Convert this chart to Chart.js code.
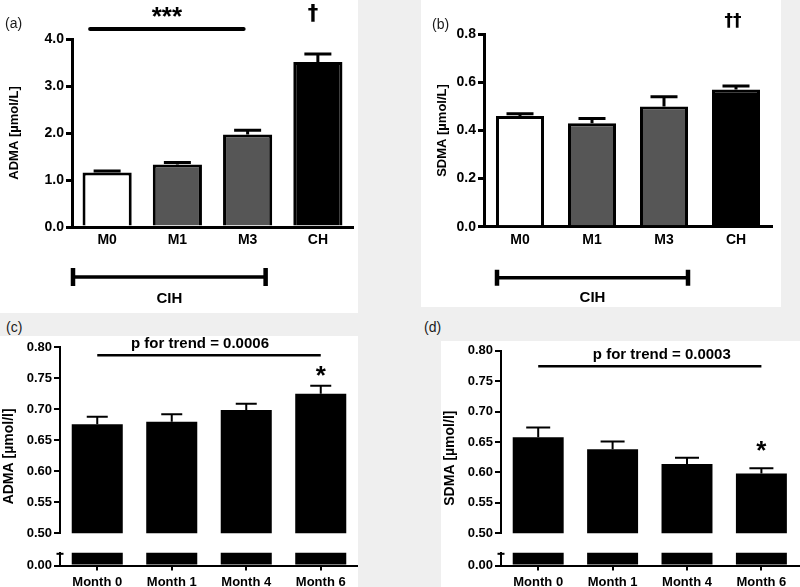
<!DOCTYPE html>
<html>
<head>
<meta charset="utf-8">
<script src="https://cdn.jsdelivr.net/npm/chart.js@4.4.1/dist/chart.umd.min.js"></script>
<style>
  html, body { margin: 0; padding: 0; background: #efefef; }
  #fig { position: relative; width: 800px; height: 587px; overflow: hidden; background: #efefef;
         font-family: "Liberation Sans", Arial, sans-serif; }
  .panel { position: absolute; background: #fff; }
  canvas { position: absolute; }
  .tag { position: absolute; font-size: 14px; line-height: 14px; color: #1a1a1a; }
</style>
</head>
<body>
<div id="fig">
  <div class="panel" style="left:0;top:0;width:358px;height:313px"></div>
  <div class="panel" style="left:421px;top:0;width:360px;height:307px"></div>
  <div class="panel" style="left:0;top:336px;width:358px;height:251px"></div>
  <div class="panel" style="left:441px;top:341px;width:359px;height:246px"></div>

  <canvas id="chartA" width="358" height="313" style="left:0;top:0"></canvas>
  <canvas id="chartB" width="360" height="307" style="left:421px;top:0"></canvas>
  <canvas id="chartCUp" width="358" height="207" style="left:0;top:336px"></canvas>
  <canvas id="chartCLow" width="358" height="44" style="left:0;top:543px"></canvas>
  <canvas id="chartDUp" width="359" height="202" style="left:441px;top:341px"></canvas>
  <canvas id="chartDLow" width="359" height="44" style="left:441px;top:543px"></canvas>

  <span class="tag" style="left:5px;top:16px">(a)</span>
  <span class="tag" style="left:432px;top:17px">(b)</span>
  <span class="tag" style="left:6px;top:320px">(c)</span>
  <span class="tag" style="left:424px;top:320px">(d)</span>
</div>
<script>
// top row: CIH months vs controls
const catsTop = ['M0', 'M1', 'M3', 'CH'];
const admaTop = [1.16, 1.33, 1.97, 3.51];
const admaTopErr = [0.03, 0.04, 0.09, 0.17];
const sdmaTop = [0.46, 0.43, 0.50, 0.57];
const sdmaTopErr = [0.01, 0.02, 0.04, 0.015];
const admaTopTicks = [0, 1, 2, 3, 4];
const sdmaTopTicks = [0, 0.2, 0.4, 0.6, 0.8];

// bottom row: follow-up months
const catsMonth = ['Month 0', 'Month 1', 'Month 4', 'Month 6'];
const admaMonth = [0.676, 0.680, 0.699, 0.725];
const admaMonthErr = [0.012, 0.012, 0.010, 0.013];
const sdmaMonth = [0.658, 0.638, 0.614, 0.598];
const sdmaMonthErr = [0.016, 0.013, 0.010, 0.009];
const upperTicks = [0.50, 0.55, 0.60, 0.65, 0.70, 0.75, 0.80];
const lowerTicks = [0];

const FONT = '"Liberation Sans", Arial, sans-serif';
const DAGGER_FONT = '"DejaVu Sans", sans-serif';
const topColors = ['#ffffff', '#565656', '#565656', '#000000'];

Chart.defaults.font.family = FONT;
Chart.defaults.color = '#000';
Chart.defaults.animation = false;
Chart.defaults.responsive = false;
Chart.defaults.devicePixelRatio = 1;
Chart.defaults.plugins.legend.display = false;
Chart.defaults.plugins.tooltip.enabled = false;

function inkText(ctx, text, x, cy, font) {
    ctx.save();
    ctx.font = font;
    ctx.fillStyle = '#000';
    ctx.textAlign = 'center';
    ctx.textBaseline = 'alphabetic';
    const m = ctx.measureText(text);
    ctx.fillText(text, x, cy + (m.actualBoundingBoxAscent - m.actualBoundingBoxDescent) / 2);
    ctx.restore();
}

function hLine(ctx, x1, x2, y, w, cap) {
    ctx.save();
    ctx.strokeStyle = '#000';
    ctx.lineWidth = w;
    ctx.lineCap = cap || 'butt';
    ctx.beginPath();
    ctx.moveTo(x1, y);
    ctx.lineTo(x2, y);
    ctx.stroke();
    ctx.restore();
}

function bracket(ctx, x1, x2, y, half, w) {
    hLine(ctx, x1, x2, y, w);
    ctx.save();
    ctx.strokeStyle = '#000';
    ctx.lineWidth = w + 1;
    ctx.beginPath();
    ctx.moveTo(x1, y - half);
    ctx.lineTo(x1, y + half);
    ctx.moveTo(x2, y - half);
    ctx.lineTo(x2, y + half);
    ctx.stroke();
    ctx.restore();
}

function errorBars(errors, cap, width) {
    return {
        id: 'errorBars',
        afterDatasetsDraw(chart) {
            const { ctx, scales: { y } } = chart;
            const values = chart.data.datasets[0].data;
            ctx.save();
            ctx.strokeStyle = '#000';
            ctx.lineWidth = width;
            chart.getDatasetMeta(0).data.forEach((bar, i) => {
                const top = y.getPixelForValue(values[i] + errors[i]);
                ctx.beginPath();
                ctx.moveTo(bar.x, bar.y);
                ctx.lineTo(bar.x, top);
                ctx.moveTo(bar.x - cap / 2, top);
                ctx.lineTo(bar.x + cap / 2, top);
                ctx.stroke();
            });
            ctx.restore();
        }
    };
}

function topChart(id, values, errors, ticks, title, geo, notes) {
    return new Chart(document.getElementById(id), {
        type: 'bar',
        data: {
            labels: catsTop,
            datasets: [{
                data: values,
                backgroundColor: topColors,
                borderColor: '#000',
                borderWidth: 3,
                barPercentage: geo.bar,
                categoryPercentage: 1
            }]
        },
        options: {
            layout: { padding: { top: geo.top, right: geo.right, left: 0, bottom: 0 } },
            scales: {
                x: {
                    grid: { display: false, drawTicks: false },
                    border: { color: '#000', width: 3 },
                    ticks: { padding: 5, font: { size: 14, weight: 'bold' } },
                    afterFit: s => { s.height = geo.xh; }
                },
                y: {
                    min: ticks[0],
                    max: ticks[ticks.length - 1],
                    afterBuildTicks: s => { s.ticks = ticks.map(v => ({ value: v })); },
                    grid: { drawOnChartArea: false, color: '#000', lineWidth: 3, tickLength: 6 },
                    border: { color: '#000', width: 3 },
                    ticks: { padding: 2, font: { size: 14, weight: 'bold' }, callback: v => v.toFixed(1) },
                    title: {
                        display: true,
                        text: title,
                        font: { size: 13, weight: 'bold' },
                        padding: { top: geo.titlePad, bottom: 0 }
                    },
                    afterFit: s => { s.width = geo.yw; }
                }
            }
        },
        plugins: [errorBars(errors, 27, 3), notes]
    });
}

function monthCharts(prefix, values, errors, title, geo, notes) {
    const yTitle = {
        id: 'yTitle',
        afterDraw(chart) {
            const { ctx, chartArea } = chart;
            const cy = (chartArea.top + chart.height + geo.drop) / 2;
            ctx.save();
            ctx.translate(geo.titleX, cy);
            ctx.rotate(-Math.PI / 2);
            ctx.font = 'bold 14px ' + FONT;
            ctx.fillStyle = '#000';
            ctx.textAlign = 'center';
            ctx.textBaseline = 'middle';
            ctx.fillText(title, 0, 0);
            ctx.restore();
        }
    };

    // small cap where the lower piece of the broken axis starts
    const breakCap = {
        id: 'breakCap',
        afterDraw(chart) {
            const { ctx, chartArea } = chart;
            hLine(ctx, chartArea.left - 3.5, chartArea.left + 3.5, chartArea.top + 1, 2);
        }
    };

    const yAxis = (ticks, min, max) => ({
        min: min,
        max: max,
        afterBuildTicks: s => { s.ticks = ticks.map(v => ({ value: v })); },
        grid: { drawOnChartArea: false, color: '#000', lineWidth: 2, tickLength: 6 },
        border: { color: '#000', width: 2 },
        ticks: { padding: 2, font: { size: 13, weight: 'bold' }, callback: v => v.toFixed(2) },
        afterFit: s => { s.width = geo.yw; }
    });

    const dataset = () => ({
        data: values,
        backgroundColor: '#000',
        borderWidth: 0,
        barPercentage: 0.685,
        categoryPercentage: 1,
        clip: 0
    });

    new Chart(document.getElementById(prefix + 'Up'), {
        type: 'bar',
        data: { labels: catsMonth, datasets: [dataset()] },
        options: {
            layout: { padding: { top: geo.top, bottom: geo.bottom, left: 0, right: geo.right } },
            scales: {
                x: { display: false },
                y: yAxis(upperTicks, upperTicks[0], upperTicks[upperTicks.length - 1])
            }
        },
        plugins: [errorBars(errors, geo.cap, 2), yTitle, notes]
    });

    new Chart(document.getElementById(prefix + 'Low'), {
        type: 'bar',
        data: { labels: catsMonth, datasets: [dataset()] },
        options: {
            layout: { padding: { top: 7, bottom: 0, left: 0, right: geo.right } },
            scales: {
                x: {
                    grid: { offset: false, drawOnChartArea: false, color: '#000', lineWidth: 2, tickLength: 5 },
                    border: { color: '#000', width: 2 },
                    ticks: { padding: 4, font: { size: 13, weight: 'bold' } },
                    afterFit: s => { s.height = 21.5; }
                },
                y: yAxis(lowerTicks, 0, 0.03)
            }
        },
        plugins: [breakCap]
    });
}

// (a) ADMA, CIH vs controls
topChart('chartA', admaTop, admaTopErr, admaTopTicks, 'ADMA [µmol/L]',
    { top: 39, right: 5, xh: 86, yw: 72, bar: 0.70, titlePad: 7 },
    {
        id: 'notesA',
        afterDraw(chart) {
            const { ctx, chartArea, scales: { x, y } } = chart;
            const top = y.getPixelForValue(admaTopTicks[admaTopTicks.length - 1]);
            const base = y.getPixelForValue(0);
            const x0 = x.getPixelForValue(0), x2 = x.getPixelForValue(2), x3 = x.getPixelForValue(3);
            hLine(ctx, x0 - 17, x2 - 4, top - 10, 4, 'round');
            inkText(ctx, '***', (x0 - 17 + x2 - 4) / 2, top - 27, 'bold 26px ' + FONT);
            inkText(ctx, '†', x3 - 5, top - 26, 'bold 21px ' + DAGGER_FONT);
            const l = chartArea.left + 1, r = x2 + 18;
            bracket(ctx, l, r, base + 50, 9, 3.5);
            inkText(ctx, 'CIH', (l + r) / 2, base + 71, 'bold 15px ' + FONT);
        }
    });

// (b) SDMA, CIH vs controls
topChart('chartB', sdmaTop, sdmaTopErr, sdmaTopTicks, 'SDMA [µmol/L]',
    { top: 34.3, right: 9, xh: 80.3, yw: 63, bar: 0.667, titlePad: 14 },
    {
        id: 'notesB',
        afterDraw(chart) {
            const { ctx, chartArea, scales: { x, y } } = chart;
            const top = y.getPixelForValue(sdmaTopTicks[sdmaTopTicks.length - 1]);
            const base = y.getPixelForValue(0);
            const x2 = x.getPixelForValue(2), x3 = x.getPixelForValue(3);
            inkText(ctx, '††', x3 - 3, top - 14, 'bold 17px ' + DAGGER_FONT);
            const l = chartArea.left + 13, r = x2 + 24;
            bracket(ctx, l, r, base + 51, 8, 3.5);
            inkText(ctx, 'CIH', (l + r) / 2, base + 70.5, 'bold 15px ' + FONT);
        }
    });

// (c) ADMA over follow-up
monthCharts('chartC', admaMonth, admaMonthErr, 'ADMA [µmol/l]',
    { top: 11.3, bottom: 6.3, right: 0, yw: 60, cap: 21, titleX: 9, drop: 22.5 },
    {
        id: 'notesC',
        afterDraw(chart) {
            const { ctx, scales: { x, y } } = chart;
            const top = y.getPixelForValue(upperTicks[upperTicks.length - 1]);
            const x0 = x.getPixelForValue(0), x3 = x.getPixelForValue(3);
            ctx.save();
            ctx.font = 'bold 15px ' + FONT;
            ctx.fillStyle = '#000';
            ctx.textAlign = 'center';
            ctx.textBaseline = 'alphabetic';
            ctx.fillText('p for trend = 0.0006', (x0 + x3) / 2 - 9, top + 0.5);
            ctx.restore();
            hLine(ctx, x0, x3, top + 8, 2.5);
            inkText(ctx, '*', x3, y.getPixelForValue(admaMonth[3] + admaMonthErr[3]) - 15, 'bold 26px ' + FONT);
        }
    });

// (d) SDMA over follow-up
monthCharts('chartD', sdmaMonth, sdmaMonthErr, 'SDMA [µmol/l]',
    { top: 6.3, bottom: 6.3, right: 1.4, yw: 60, cap: 24, titleX: 9, drop: 22.5 },
    {
        id: 'notesD',
        afterDraw(chart) {
            const { ctx, scales: { x, y } } = chart;
            const top = y.getPixelForValue(upperTicks[upperTicks.length - 1]);
            const x0 = x.getPixelForValue(0), x3 = x.getPixelForValue(3);
            ctx.save();
            ctx.font = 'bold 15px ' + FONT;
            ctx.fillStyle = '#000';
            ctx.textAlign = 'center';
            ctx.textBaseline = 'alphabetic';
            ctx.fillText('p for trend = 0.0003', (x0 + x3) / 2 + 12, top + 8.5);
            ctx.restore();
            hLine(ctx, x0, x3, top + 15.4, 2.5);
            inkText(ctx, '*', x3, y.getPixelForValue(sdmaMonth[3] + sdmaMonthErr[3]) - 21.7, 'bold 26px ' + FONT);
        }
    });
</script>
</body>
</html>
